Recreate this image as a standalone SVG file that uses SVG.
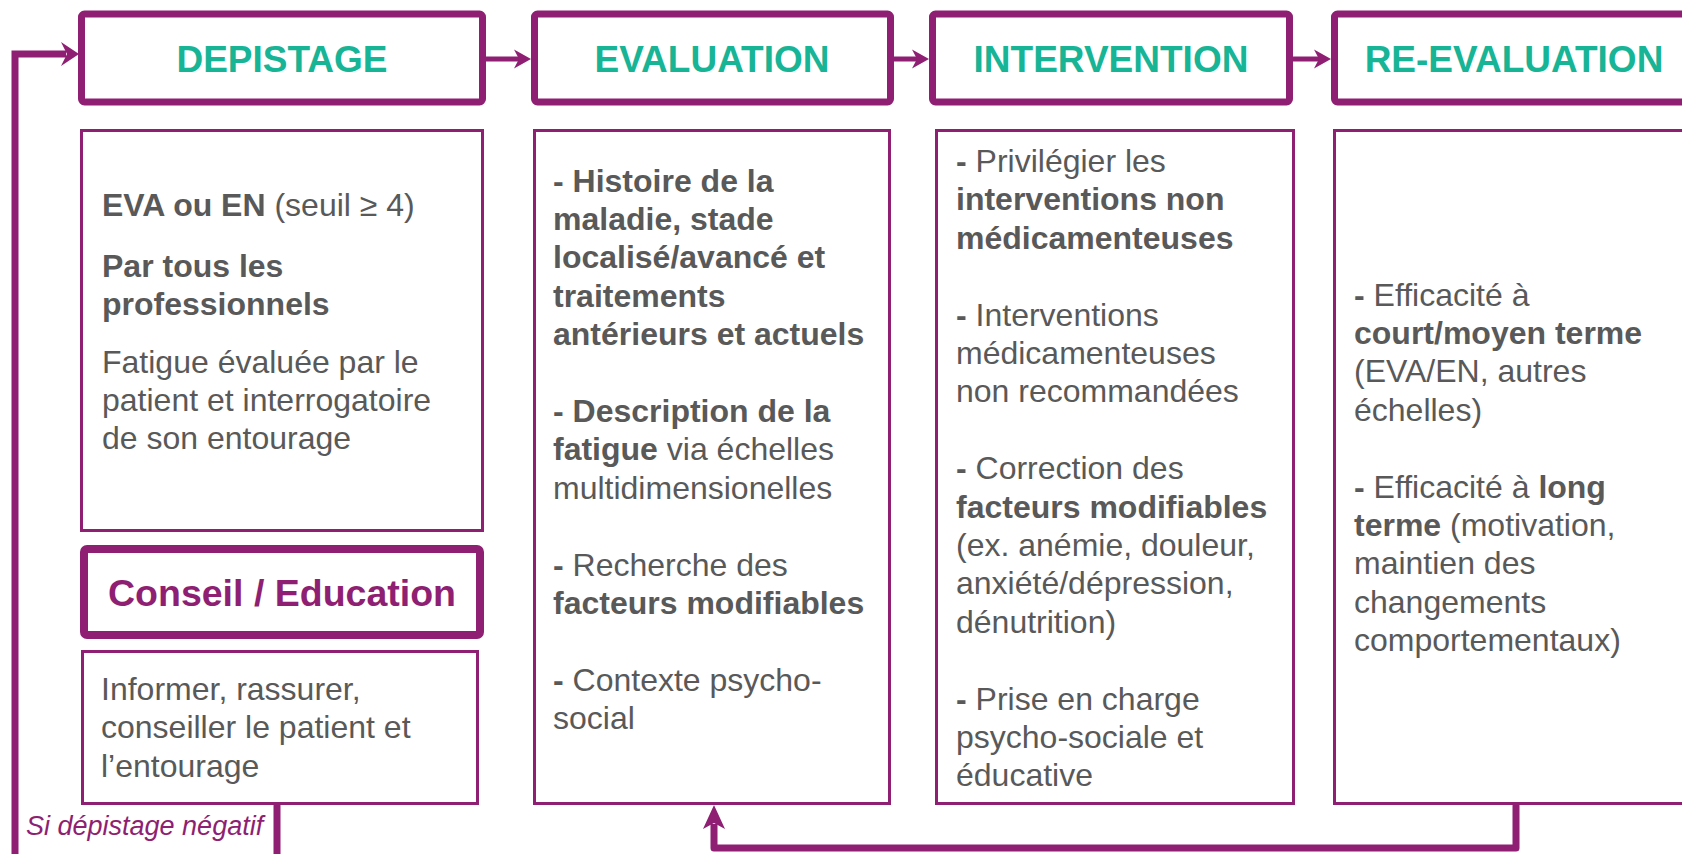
<svg xmlns="http://www.w3.org/2000/svg" width="1682" height="854" viewBox="0 0 1682 854">
<style>
.hdr{fill:#fff;stroke:#8E1F72;stroke-width:7}
.box{fill:#fff;stroke:#8E1F72;stroke-width:3}
.ht{font-family:"Liberation Sans",Arial,sans-serif;font-weight:bold;font-size:37px;fill:#17B496;text-anchor:middle}
.t{font-family:"Liberation Sans",Arial,sans-serif;font-size:32px;fill:#595959}
.b{font-weight:bold}
.con{fill:none;stroke:#8E1F72}
.head{fill:#8E1F72}
</style>
<rect width="1682" height="854" fill="#fff"/>
<g id="connectors">
  <path class="con" stroke-width="5" d="M486 59 H521"/>
  <path class="head" d="M531 59 L514 49.5 L519 59 L514 68.5 Z"/>
  <path class="con" stroke-width="5" d="M894 59 H919"/>
  <path class="head" d="M929 59 L912 49.5 L917 59 L912 68.5 Z"/>
  <path class="con" stroke-width="5" d="M1293 59 H1321"/>
  <path class="head" d="M1331 59 L1314 49.5 L1319 59 L1314 68.5 Z"/>
  <path class="con" stroke-width="7" d="M277 805 V880 H15 V54 H66"/>
  <path class="head" d="M79 54 L61 42 L67 54 L61 66 Z"/>
  <path class="con" stroke-width="7" stroke-linejoin="round" d="M1516 805 V848 H714 V824"/>
  <path class="head" d="M714 805 L703 829 L714 823 L725 829 Z"/>
  <text x="26" y="835" font-family="'Liberation Sans',Arial,sans-serif" font-style="italic" font-size="27" fill="#8E1F72">Si dépistage négatif</text>
</g>
<g id="depistage">
  <rect class="hdr" x="81.5" y="14" width="401" height="88" rx="3"/>
  <text class="ht" x="282" y="72">DEPISTAGE</text>
</g>
<g id="evaluation">
  <rect class="hdr" x="534.5" y="14" width="356" height="88" rx="3"/>
  <text class="ht" x="712" y="72">EVALUATION</text>
</g>
<g id="intervention">
  <rect class="hdr" x="932.5" y="14" width="357" height="88" rx="3"/>
  <text class="ht" x="1111" y="72">INTERVENTION</text>
</g>
<g id="reevaluation">
  <rect class="hdr" x="1334.5" y="14" width="400" height="88" rx="3"/>
  <text class="ht" x="1514" y="72">RE-EVALUATION</text>
</g>
<g id="depistage-content">
  <rect class="box" x="81.5" y="130.5" width="401" height="400"/>
  <text class="t" x="102" y="216"><tspan class="b">EVA ou EN</tspan> (seuil ≥ 4)</text>
  <text class="t b" x="102" y="277">Par tous les</text>
  <text class="t b" x="102" y="315">professionnels</text>
  <text class="t" x="102" y="373">Fatigue évaluée par le</text>
  <text class="t" x="102" y="411">patient et interrogatoire</text>
  <text class="t" x="102" y="449">de son entourage</text>
</g>
<g id="conseil">
  <rect fill="#fff" stroke="#8E1F72" stroke-width="8" x="84" y="549" width="396" height="86" rx="3"/>
  <text x="282" y="606" font-family="'Liberation Sans',Arial,sans-serif" font-weight="bold" font-size="37.5" fill="#8E1F72" text-anchor="middle">Conseil / Education</text>
</g>
<g id="conseil-content">
  <rect class="box" x="82.5" y="651.5" width="395" height="152"/>
  <text class="t" x="101" y="700">Informer, rassurer,</text>
  <text class="t" x="101" y="738.4">conseiller le patient et</text>
  <text class="t" x="101" y="776.8">l’entourage</text>
</g>
<g id="evaluation-content">
  <rect class="box" x="534.5" y="130.5" width="355" height="673"/>
  <text class="t b" x="553" y="191.5">- Histoire de la</text>
  <text class="t b" x="553" y="229.9">maladie, stade</text>
  <text class="t b" x="553" y="268.3">localisé/avancé et</text>
  <text class="t b" x="553" y="306.7">traitements</text>
  <text class="t b" x="553" y="345.1">antérieurs et actuels</text>
  <text class="t b" x="553" y="421.9">- Description de la</text>
  <text class="t" x="553" y="460.3"><tspan class="b">fatigue</tspan> via échelles</text>
  <text class="t" x="553" y="498.7">multidimensionelles</text>
  <text class="t" x="553" y="575.5"><tspan class="b">-</tspan> Recherche des</text>
  <text class="t b" x="553" y="613.9">facteurs modifiables</text>
  <text class="t" x="553" y="690.7"><tspan class="b">-</tspan> Contexte psycho-</text>
  <text class="t" x="553" y="729.1">social</text>
</g>
<g id="intervention-content">
  <rect class="box" x="936.5" y="130.5" width="357" height="673"/>
  <text class="t" x="956" y="172"><tspan class="b">-</tspan> Privilégier les</text>
  <text class="t b" x="956" y="210.4">interventions non</text>
  <text class="t b" x="956" y="248.8">médicamenteuses</text>
  <text class="t" x="956" y="325.6"><tspan class="b">-</tspan> Interventions</text>
  <text class="t" x="956" y="364">médicamenteuses</text>
  <text class="t" x="956" y="402.4">non recommandées</text>
  <text class="t" x="956" y="479.2"><tspan class="b">-</tspan> Correction des</text>
  <text class="t b" x="956" y="517.6">facteurs modifiables</text>
  <text class="t" x="956" y="556">(ex. anémie, douleur,</text>
  <text class="t" x="956" y="594.4">anxiété/dépression,</text>
  <text class="t" x="956" y="632.8">dénutrition)</text>
  <text class="t" x="956" y="709.6"><tspan class="b">-</tspan> Prise en charge</text>
  <text class="t" x="956" y="748">psycho-sociale et</text>
  <text class="t" x="956" y="786.4">éducative</text>
</g>
<g id="reevaluation-content">
  <rect class="box" x="1334.5" y="130.5" width="400" height="673"/>
  <text class="t" x="1354" y="305.6"><tspan class="b">-</tspan> Efficacité à</text>
  <text class="t b" x="1354" y="344">court/moyen terme</text>
  <text class="t" x="1354" y="382.4">(EVA/EN, autres</text>
  <text class="t" x="1354" y="420.8">échelles)</text>
  <text class="t" x="1354" y="497.6"><tspan class="b">-</tspan> Efficacité à <tspan class="b">long</tspan></text>
  <text class="t" x="1354" y="536"><tspan class="b">terme</tspan> (motivation,</text>
  <text class="t" x="1354" y="574.4">maintien des</text>
  <text class="t" x="1354" y="612.8">changements</text>
  <text class="t" x="1354" y="651.2">comportementaux)</text>
</g>
</svg>
